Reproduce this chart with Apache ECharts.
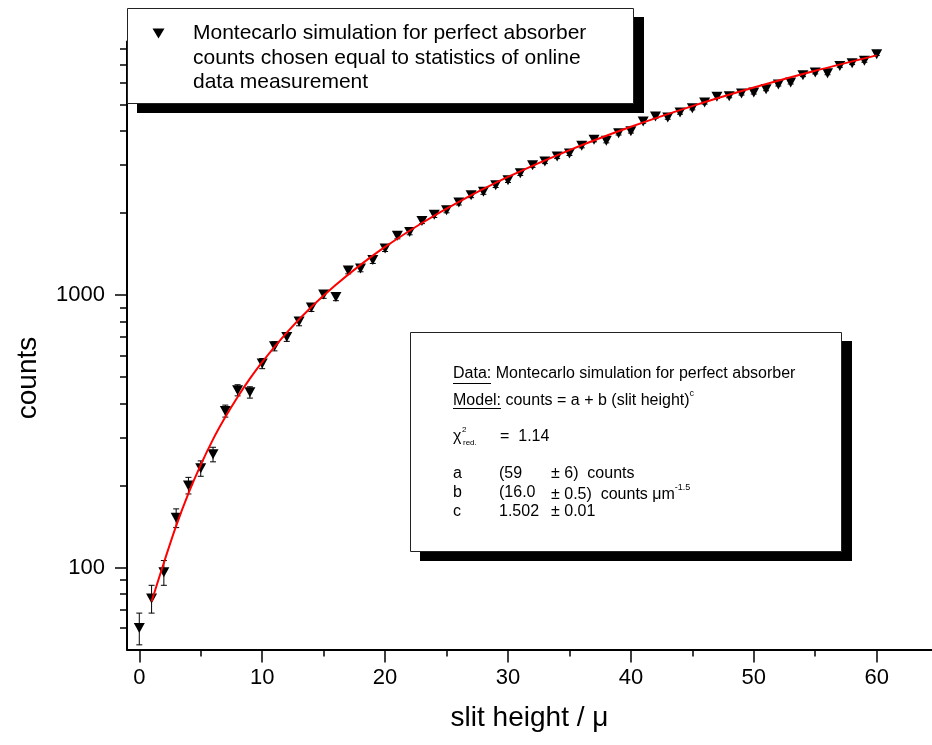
<!DOCTYPE html>
<html>
<head>
<meta charset="utf-8">
<script src="https://cdn.jsdelivr.net/npm/echarts@6/dist/echarts.min.js"></script>
<style>html,body{margin:0;padding:0;background:#fff}#c{width:932px;height:745px}</style>
</head>
<body>
<div id="c"></div>
<script>
// ---- data ----
const slitHeight = [0,1,2,3,4,5,6,7,8,9,10,11,12,13,14,15,16,17,18,19,20,21,22,23,24,25,26,27,28,29,30,31,32,33,34,35,36,37,38,39,40,41,42,43,44,45,46,47,48,49,50,51,52,53,54,55,56,57,58,59,60];
const counts = [60,77,96,152,200,231,260,375,447,439,560,648,701,798,899,1003,983,1229,1250,1341,1480,1646,1702,1868,1966,2045,2183,2321,2387,2526,2635,2795,2991,3086,3219,3302,3521,3704,3672,3920,3986,4326,4512,4475,4668,4841,5080,5325,5357,5480,5527,5683,5913,6014,6397,6545,6500,6918,7079,7218,7638];
const countErrors = [8,9,10,12,14,15,16,19,21,21,24,25,26,28,30,32,31,35,35,37,38,41,41,43,44,45,47,48,49,50,51,53,55,56,57,57,59,61,61,63,63,66,67,67,68,70,71,73,73,74,74,75,77,78,80,81,81,83,84,85,87];
const fitX = [1,2,3,4,5,6,7,8,9,10,12,14,16,18,20,23,26,30,35,40,45,50,55,60];
const fitCounts = [75,104,142,187,238,295,356,422,493,567,727,902,1089,1288,1499,1835,2194,2707,3395,4136,4926,5760,6638,7560];
const xMajorTicks = [0,10,20,30,40,50,60];
const xMinorTicks = [5,15,25,35,45,55];
const yMajorTicks = [100,1000];
const yMinorTicks = [60,70,80,90,200,300,400,500,600,700,800,900,2000,3000,4000,5000,6000,7000,8000];
const xRange = [-1, 64.5];
const yRange = [50, 8500];

const FONT = 'Liberation Sans, Arial, Helvetica, sans-serif';
const chart = echarts.init(document.getElementById('c'), null, {renderer: 'canvas'});

const axisLineStyle = {color: '#000', width: 2};
const option = {
  animation: false,
  backgroundColor: '#fff',
  grid: {left: 127, right: 0, top: 41.5, bottom: 95.5, containLabel: false},
  xAxis: [
    {
      type: 'value', min: xRange[0], max: xRange[1],
      axisLine: {show: true, onZero: false, lineStyle: axisLineStyle},
      axisTick: {show: true, customValues: xMajorTicks, length: 13, lineStyle: {color: '#000', width: 1.5}},
      axisLabel: {show: true, customValues: xMajorTicks, fontSize: 22, fontFamily: FONT, color: '#000', margin: 17, formatter: v => String(v)},
      splitLine: {show: false},
      name: 'slit height / μ', nameLocation: 'middle', nameGap: 55,
      nameTextStyle: {fontSize: 28, fontFamily: FONT, color: '#000'}
    },
    {
      type: 'value', min: xRange[0], max: xRange[1], position: 'bottom',
      axisLine: {show: false, onZero: false},
      axisTick: {show: true, customValues: xMinorTicks, length: 7, lineStyle: {color: '#000', width: 1.5}},
      axisLabel: {show: false},
      splitLine: {show: false}
    }
  ],
  yAxis: [
    {
      type: 'log', logBase: 10, min: yRange[0], max: yRange[1],
      axisLine: {show: true, onZero: false, lineStyle: axisLineStyle},
      axisTick: {show: true, customValues: yMajorTicks, length: 12, lineStyle: {color: '#000', width: 1.5}},
      axisLabel: {show: true, customValues: yMajorTicks, fontSize: 22, fontFamily: FONT, color: '#000', margin: 22, formatter: v => String(Math.round(v))},
      splitLine: {show: false},
      minorTick: {show: false}
    },
    {
      type: 'log', logBase: 10, min: yRange[0], max: yRange[1], position: 'left',
      axisLine: {show: false, onZero: false},
      axisTick: {show: true, customValues: yMinorTicks, length: 7, lineStyle: {color: '#000', width: 1.5}},
      axisLabel: {show: false},
      splitLine: {show: false}
    }
  ],
  series: [
    {
      type: 'custom', name: 'errors', z: 1,
      xAxisIndex: 0, yAxisIndex: 0,
      encode: {x: 0, y: [1, 2]},
      data: slitHeight.map((x, i) => [x, counts[i] - countErrors[i], counts[i] + countErrors[i]]),
      renderItem: function (params, api) {
        const x = api.value(0);
        const lo = api.coord([x, api.value(1)]);
        const hi = api.coord([x, api.value(2)]);
        const cap = 3;
        const st = {stroke: '#000', lineWidth: 1};
        return {type: 'group', children: [
          {type: 'line', shape: {x1: lo[0], y1: lo[1], x2: hi[0], y2: hi[1]}, style: st},
          {type: 'line', shape: {x1: lo[0] - cap, y1: lo[1], x2: lo[0] + cap, y2: lo[1]}, style: st},
          {type: 'line', shape: {x1: hi[0] - cap, y1: hi[1], x2: hi[0] + cap, y2: hi[1]}, style: st}
        ]};
      }
    },
    {
      type: 'scatter', name: 'Montecarlo', z: 2,
      xAxisIndex: 0, yAxisIndex: 0,
      symbol: 'triangle', symbolRotate: 180, symbolSize: [11, 10],
      itemStyle: {color: '#000', opacity: 1},
      data: slitHeight.map((x, i) => [x, counts[i]])
    },
    {
      type: 'line', name: 'fit', z: 3,
      xAxisIndex: 0, yAxisIndex: 0,
      showSymbol: false, smooth: 0.3,
      lineStyle: {color: '#ff0000', width: 2},
      data: fitX.map((x, i) => [x, fitCounts[i]])
    }
  ],
  graphic: [
    // y axis title
    {type: 'text', z: 50, x: 28, y: 378, rotation: Math.PI / 2, style: {x: 0, y: 0, text: 'counts', fontSize: 28, fontFamily: FONT, fill: '#000', align: 'center', verticalAlign: 'middle'}},
    // legend box
    {type: 'rect', z: 100, shape: {x: 137, y: 17, width: 507, height: 96}, style: {fill: '#000'}},
    {type: 'rect', z: 101, shape: {x: 127.5, y: 8.5, width: 506, height: 95}, style: {fill: '#fff', stroke: '#222', lineWidth: 1}},
    {type: 'polygon', z: 102, shape: {points: [[152.5, 28.5], [164.5, 28.5], [158.5, 38.5]]}, style: {fill: '#000'}},
    {type: 'text', z: 102, style: {x: 193, y: 33, text: 'Montecarlo simulation for perfect absorber', fontSize: 21, fontFamily: FONT, fill: '#000', verticalAlign: 'middle'}},
    {type: 'text', z: 102, style: {x: 193, y: 58, text: 'counts chosen equal to statistics of online', fontSize: 21, fontFamily: FONT, fill: '#000', verticalAlign: 'middle'}},
    {type: 'text', z: 102, style: {x: 193, y: 82, text: 'data measurement', fontSize: 21, fontFamily: FONT, fill: '#000', verticalAlign: 'middle'}},
    // fit info box
    {type: 'rect', z: 100, shape: {x: 420, y: 341, width: 432, height: 220}, style: {fill: '#000'}},
    {type: 'rect', z: 101, shape: {x: 410.5, y: 332.5, width: 431, height: 219}, style: {fill: '#fff', stroke: '#222', lineWidth: 1}},
    {type: 'text', z: 102, style: {x: 453, y: 374, text: 'Data: Montecarlo simulation for perfect absorber', fontSize: 16, fontFamily: FONT, fill: '#000', verticalAlign: 'middle'}},
    {type: 'line', z: 102, shape: {x1: 453, y1: 383.5, x2: 491, y2: 383.5}, style: {stroke: '#000', lineWidth: 1}},
    {type: 'text', z: 102, style: {x: 453, y: 399, text: '{m|Model: counts = a + b (slit height)}{s|c}', fontSize: 16, fontFamily: FONT, fill: '#000', verticalAlign: 'middle',
      rich: {m: {fontSize: 16, fontFamily: FONT, lineHeight: 20, verticalAlign: 'bottom'}, s: {fontSize: 9, fontFamily: FONT, lineHeight: 10, verticalAlign: 'top'}}}},
    {type: 'line', z: 102, shape: {x1: 453, y1: 408.5, x2: 501, y2: 408.5}, style: {stroke: '#000', lineWidth: 1}},
    {type: 'text', z: 102, style: {x: 453, y: 437, text: 'χ', fontSize: 16, fontFamily: FONT, fill: '#000', verticalAlign: 'middle'}},
    {type: 'text', z: 102, style: {x: 462, y: 430, text: '2', fontSize: 8, fontFamily: FONT, fill: '#000', verticalAlign: 'middle'}},
    {type: 'text', z: 102, style: {x: 463, y: 443, text: 'red.', fontSize: 8, fontFamily: FONT, fill: '#000', verticalAlign: 'middle'}},
    {type: 'text', z: 102, style: {x: 500, y: 437, text: '=  1.14', fontSize: 16, fontFamily: FONT, fill: '#000', verticalAlign: 'middle'}},
    {type: 'text', z: 102, style: {x: 453, y: 474, text: 'a', fontSize: 16, fontFamily: FONT, fill: '#000', verticalAlign: 'middle'}},
    {type: 'text', z: 102, style: {x: 499, y: 474, text: '(59', fontSize: 16, fontFamily: FONT, fill: '#000', verticalAlign: 'middle'}},
    {type: 'text', z: 102, style: {x: 551, y: 474, text: '± 6)  counts', fontSize: 16, fontFamily: FONT, fill: '#000', verticalAlign: 'middle'}},
    {type: 'text', z: 102, style: {x: 453, y: 493, text: 'b', fontSize: 16, fontFamily: FONT, fill: '#000', verticalAlign: 'middle'}},
    {type: 'text', z: 102, style: {x: 499, y: 493, text: '(16.0', fontSize: 16, fontFamily: FONT, fill: '#000', verticalAlign: 'middle'}},
    {type: 'text', z: 102, style: {x: 551, y: 493, text: '{m|± 0.5)  counts μm}{s|-1.5}', fontSize: 16, fontFamily: FONT, fill: '#000', verticalAlign: 'middle',
      rich: {m: {fontSize: 16, fontFamily: FONT, lineHeight: 20, verticalAlign: 'bottom'}, s: {fontSize: 9, fontFamily: FONT, lineHeight: 10, verticalAlign: 'top'}}}},
    {type: 'text', z: 102, style: {x: 453, y: 512, text: 'c', fontSize: 16, fontFamily: FONT, fill: '#000', verticalAlign: 'middle'}},
    {type: 'text', z: 102, style: {x: 499, y: 512, text: '1.502', fontSize: 16, fontFamily: FONT, fill: '#000', verticalAlign: 'middle'}},
    {type: 'text', z: 102, style: {x: 551, y: 512, text: '± 0.01', fontSize: 16, fontFamily: FONT, fill: '#000', verticalAlign: 'middle'}}
  ]
};
chart.setOption(option);
</script>
</body>
</html>
